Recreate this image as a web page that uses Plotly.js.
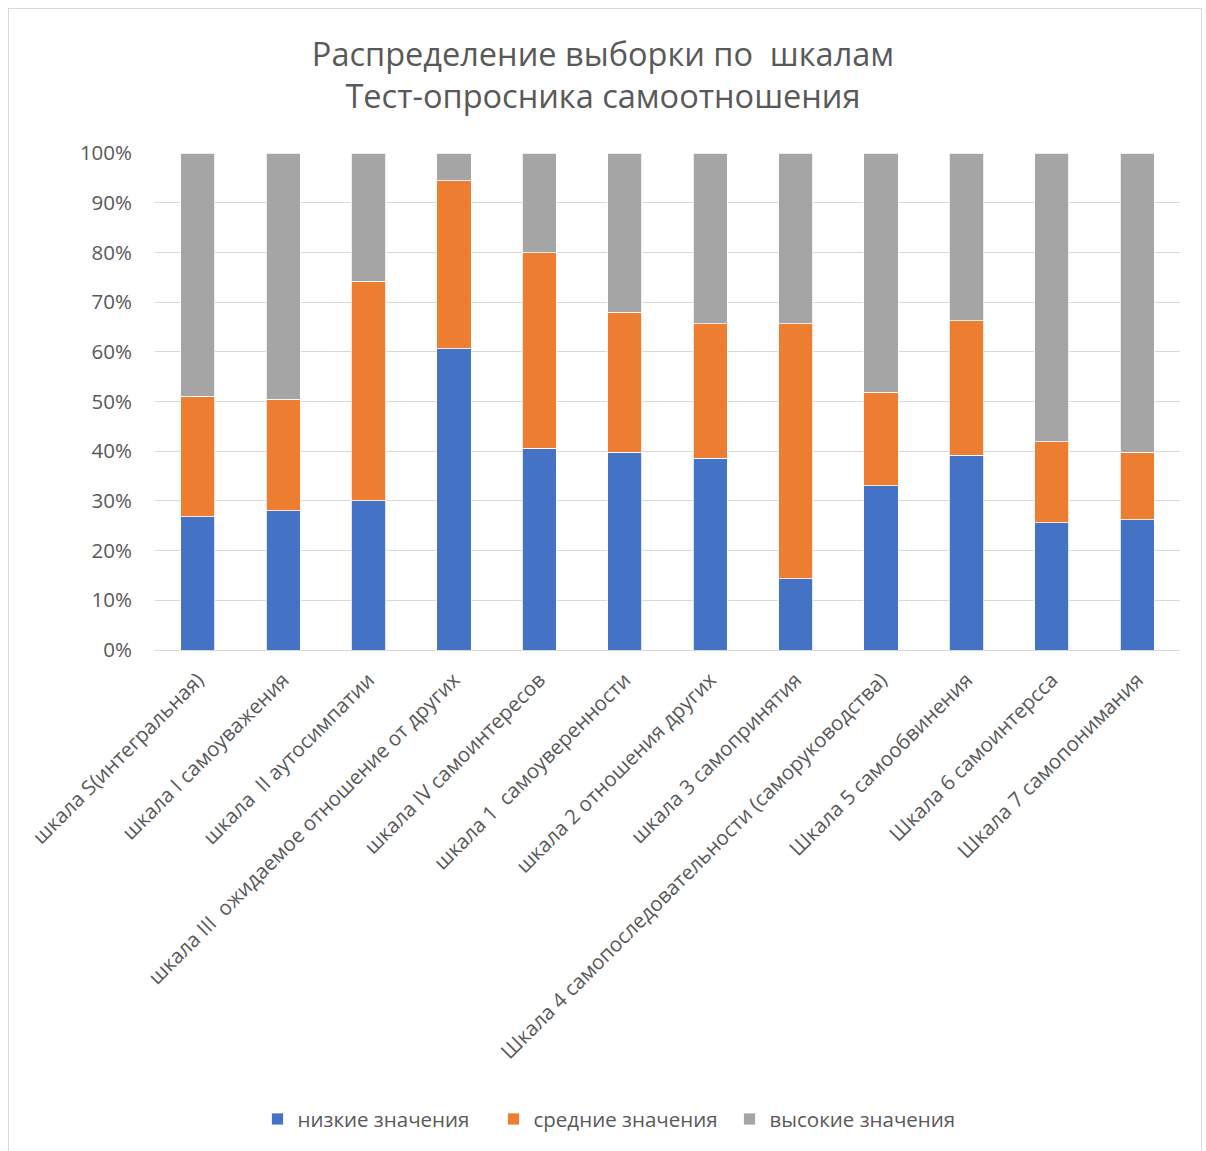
<!DOCTYPE html>
<html><head><meta charset="utf-8">
<script src="https://cdn.plot.ly/plotly-3.0.1.min.js"></script>
<style>
body{margin:0;padding:0;background:#fff;}
#frame{position:absolute;left:8px;top:8px;width:1194px;height:1150px;border:1px solid #d9d9d9;box-sizing:border-box;pointer-events:none;z-index:5;}
#chart{position:absolute;left:0;top:0;width:1206px;height:1151px;}
</style></head>
<body>
<div id="chart"></div><div id="frame"></div>
<script>
const categories = [
  "шкала S(интегральная)",
  "шкала I самоуважения",
  "шкала  II аутосимпатии",
  "шкала III  ожидаемое отношение от других",
  "шкала IV самоинтересов",
  "шкала 1  самоуверенности",
  "шкала 2 отношения других",
  "шкала 3 самопринятия",
  "Шкала 4 самопоследовательности (саморуководства)",
  "Шкала 5 самообвинения",
  "Шкала 6 самоинтерсса",
  "Шкала 7 самопонимания"
];
const lowValues  = [26.8, 28.0, 30.0, 60.6, 40.6, 39.8, 38.6, 14.3, 33.0, 39.2, 25.6, 26.2];
const midValues  = [24.3, 22.5, 44.2, 33.8, 39.3, 28.2, 27.0, 51.3, 18.9, 27.0, 16.3, 13.6];
const highValues = [48.9, 49.5, 25.8,  5.6, 20.1, 32.0, 34.4, 34.4, 48.1, 33.8, 58.1, 60.2];
const seriesNames = ["низкие значения", "средние значения", "высокие значения"];
const seriesColors = ["#4472c4", "#ed7d31", "#a5a5a5"];
const yTicks = [0,10,20,30,40,50,60,70,80,90,100];
const yTickLabels = ["0%","10%","20%","30%","40%","50%","60%","70%","80%","90%","100%"];

const font = "'Open Sans', 'Noto Sans', sans-serif";
const data = [lowValues, midValues, highValues].map((vals, i) => ({
  type: "bar",
  x: categories,
  y: vals,
  name: seriesNames[i],
  marker: {color: seriesColors[i], line: {color: "#ffffff", width: 0.8}},
  hoverinfo: "x+y+name"
}));

const layout = {
  width: 1206, height: 1151,
  barmode: "stack",
  bargap: 0.6,
  paper_bgcolor: "#ffffff",
  plot_bgcolor: "#ffffff",
  margin: {l: 155, r: 26, t: 153, b: 501},
  title: {
    text: "Распределение выборки по  шкалам<br>Тест-опросника самоотношения",
    x: 0.5, xanchor: "center",
    y: 0.943, yanchor: "middle",
    font: {family: font, size: 32.5, color: "#595959"}
  },
  xaxis: {
    type: "category",
    tickangle: -45,
    tickfont: {family: font, size: 20.5, color: "#595959"},
    showgrid: false,
    showline: false,
    ticks: "",
    ticklabelstandoff: 13,
    automargin: false
  },
  yaxis: {
    range: [0, 100],
    tickvals: yTicks,
    ticktext: yTickLabels,
    tickfont: {family: font, size: 20.5, color: "#595959"},
    showgrid: true,
    gridcolor: "#d9d9d9",
    gridwidth: 1.3,
    zeroline: true,
    zerolinecolor: "#d9d9d9",
    zerolinewidth: 1.3,
    showline: false,
    ticks: "",
    ticklabelstandoff: 22,
    fixedrange: true,
    automargin: false
  },
  legend: {
    orientation: "h",
    x: 0.1, xanchor: "left",
    y: -0.944, yanchor: "middle",
    font: {family: font, size: 20.5, color: "#595959"},
    traceorder: "normal",
    itemwidth: 30,
    entrywidth: 191,
    entrywidthmode: "pixels"
  },
  showlegend: true
};

Plotly.newPlot("chart", data, layout, {displayModeBar: false});
</script>
</body></html>
